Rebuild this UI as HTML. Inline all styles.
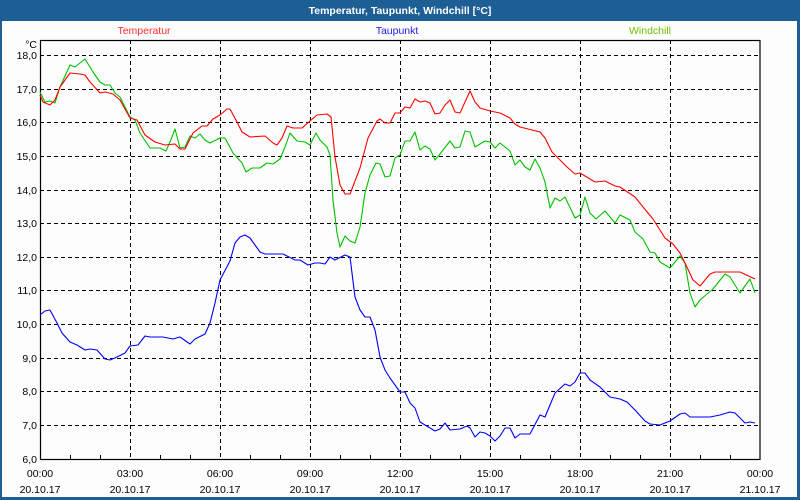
<!DOCTYPE html>
<html><head><meta charset="utf-8"><style>
html,body{margin:0;padding:0;background:#fff}
svg{display:block}
text{font-family:"Liberation Sans",sans-serif;font-size:10.5px}
</style></head><body>
<svg width="800" height="500" viewBox="0 0 800 500" xmlns="http://www.w3.org/2000/svg">
<rect x="0" y="0" width="800" height="500" fill="#1d5e95"/>
<rect x="2" y="21" width="795" height="476" fill="#fcfdfc"/>
<text x="400" y="14" fill="#fff" font-weight="bold" font-size="11" text-anchor="middle">Temperatur, Taupunkt, Windchill [°C]</text>
<text x="144" y="34" fill="#ff3030" text-anchor="middle">Temperatur</text>
<text x="397" y="34" fill="#2020e0" text-anchor="middle">Taupunkt</text>
<text x="650" y="34" fill="#70c000" text-anchor="middle">Windchill</text>
<text x="37" y="48" fill="#000" text-anchor="end">°C</text>
<g stroke="#000" stroke-width="1" stroke-dasharray="4,3" fill="none">
<path d="M40 55.5H760M40 89.5H760M40 122.5H760M40 156.5H760M40 190.5H760M40 223.5H760M40 257.5H760M40 290.5H760M40 324.5H760M40 358.5H760M40 391.5H760M40 425.5H760"/>
<path d="M130.5 40V459M220.5 40V459M310.5 40V459M400.5 40V459M490.5 40V459M580.5 40V459M670.5 40V459"/>
</g>
<rect x="40.5" y="40.5" width="719.5" height="419" fill="none" stroke="#000" stroke-width="1.2"/>
<g stroke="#000" stroke-width="1">
<path d="M70.5 459V455M100.5 459V455M160.5 459V455M190.5 459V455M250.5 459V455M280.5 459V455M340.5 459V455M370.5 459V455M430.5 459V455M460.5 459V455M520.5 459V455M550.5 459V455M610.5 459V455M640.5 459V455M700.5 459V455M730.5 459V455"/>
</g>
<g fill="#000" text-anchor="end">
<text x="37" y="59">18,0</text><text x="37" y="93">17,0</text><text x="37" y="126">16,0</text><text x="37" y="160">15,0</text><text x="37" y="194">14,0</text><text x="37" y="227">13,0</text><text x="37" y="261">12,0</text><text x="37" y="294">11,0</text><text x="37" y="328">10,0</text><text x="37" y="362">9,0</text><text x="37" y="395">8,0</text><text x="37" y="429">7,0</text><text x="37" y="463">6,0</text>
</g>
<g fill="#000" text-anchor="middle">
<text x="40" y="477">00:00</text><text x="130" y="477">03:00</text><text x="220" y="477">06:00</text><text x="310" y="477">09:00</text><text x="400" y="477">12:00</text><text x="490" y="477">15:00</text><text x="580" y="477">18:00</text><text x="670" y="477">21:00</text><text x="760" y="477">00:00</text>
<text x="40" y="493">20.10.17</text><text x="130" y="493">20.10.17</text><text x="220" y="493">20.10.17</text><text x="310" y="493">20.10.17</text><text x="400" y="493">20.10.17</text><text x="490" y="493">20.10.17</text><text x="580" y="493">20.10.17</text><text x="670" y="493">20.10.17</text><text x="760" y="493">21.10.17</text>
</g>
<g fill="none" stroke-width="1.1" stroke-linejoin="round">
<polyline stroke="#00c000" points="40,92 45,102 50,101 55,103 60,87 70,65 75,67 85,59 93,72 100,82 105,85 110,85 115,93 120,97 125,107 130,117 135,120 140,133 150,148 160,148 166,151 170,142 175,129 180,148 185,147 190,136 195,138 200,134 205,140 210,143 220,138 225,138 233,153 242,163 246,172 252,168 260,168 267,163 273,164 280,159 285,147 290,133 297,141 305,142 310,145 316,133 320,140 327,147 330,155 333,200 337,233 340,247 345,236 350,241 355,243 360,227 365,193 370,175 376,163 380,164 385,177 390,176 395,158 400,155 405,141 410,141 415,132 420,150 425,146 430,149 435,160 440,154 450,141 455,148 460,147 465,131 470,132 475,147 485,141 490,142 495,148 500,143 510,151 515,165 520,160 525,167 530,170 535,159 540,168 545,182 550,208 555,198 560,201 565,197 575,218 580,215 585,197 590,213 596,219 605,211 615,223 620,215 630,220 635,232 643,239 650,252 655,253 660,262 670,268 680,256 685,263 690,293 695,307 700,300 713,289 725,274 730,277 740,293 750,279 755,293"/>
<polyline stroke="#ff0000" points="40,95 43,102 50,105 55,100 60,87 70,73 80,74 85,75 90,82 100,93 105,92 113,94 120,100 130,118 137,120 145,135 155,142 165,145 175,144 180,149 185,149 193,133 202,126 207,126 213,119 220,115 227,109 230,109 237,122 242,132 250,137 265,136 273,143 277,145 282,138 287,126 293,128 302,128 310,121 317,115 327,114 331,117 335,157 340,185 345,194 350,194 360,168 368,138 377,121 380,119 385,123 390,123 395,113 400,113 405,107 410,108 415,99 420,102 425,101 430,103 435,114 440,113 445,105 450,100 455,112 460,113 470,91 475,102 480,108 490,111 500,113 510,118 515,124 520,127 540,132 545,138 552,152 560,160 567,167 575,174 580,173 585,176 595,182 605,181 615,186 620,187 635,197 643,207 653,219 665,238 673,244 680,253 685,263 693,280 700,286 710,274 715,272 740,272 755,279"/>
<polyline stroke="#0000ff" points="40,315 45,311 50,310 57,323 62,333 70,342 77,345 85,350 90,349 97,350 105,359 110,360 117,357 125,353 130,346 138,345 145,336 150,337 163,337 173,339 180,337 190,344 195,339 205,334 210,323 215,303 220,280 230,261 235,243 240,237 245,235 250,238 260,252 265,254 283,254 295,260 300,260 308,265 315,263 320,263 325,264 330,257 335,260 345,255 350,257 355,297 360,310 365,317 370,317 375,330 380,357 385,370 390,378 400,392 405,392 410,403 415,408 420,422 435,431 440,429 445,423 450,430 460,429 467,426 470,428 475,437 480,432 485,433 490,436 495,441 500,436 505,428 510,428 515,438 520,434 530,434 540,415 545,417 555,393 565,384 570,386 575,382 580,373 585,373 590,380 600,387 610,397 620,399 627,402 635,410 645,421 650,424 660,425 670,421 680,414 685,413 690,417 710,417 720,415 730,412 735,413 740,418 745,423 750,422 755,423"/>
</g>
</svg>
</body></html>
